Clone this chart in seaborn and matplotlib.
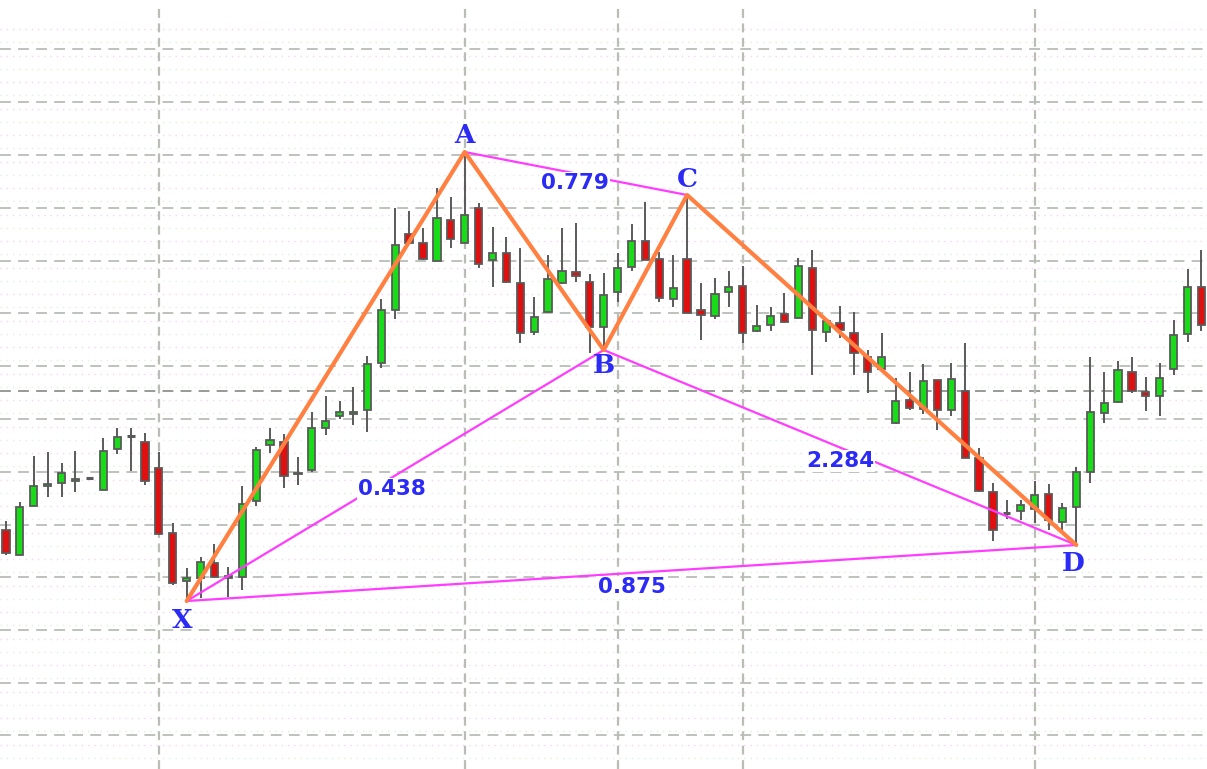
import numpy as np
import pandas as pd
import matplotlib
matplotlib.use("Agg")
import matplotlib.pyplot as plt
import seaborn as sns

# ---------------- data (price units) ----------------
opens = [240, 215, 264, 284, 287, 289, 292, 280, 321, 334, 328, 302, 237, 189, 192, 207, 192, 193,
         269, 325, 328, 296, 300, 342, 354, 356, 360, 407, 460, 536, 527, 509, 550, 527, 562, 510,
         517, 487, 438, 458, 487, 498, 488, 443, 478, 503, 529, 511, 471, 511, 460, 454, 478, 484,
         439, 445, 456, 452, 502, 438, 447, 437, 413, 401, 347, 370, 361, 390, 360, 379, 312, 278,
         257, 259, 261, 276, 248, 263, 298, 357, 368, 398, 378, 374, 401, 436, 483]
closes = [217, 263, 284, 286, 297, 291, 292, 319, 333, 334, 289, 236, 187, 192, 208, 193, 194, 266,
          320, 330, 294, 297, 342, 349, 358, 358, 406, 460, 525, 527, 511, 552, 531, 555, 506, 517,
          488, 437, 453, 491, 499, 494, 443, 475, 502, 529, 510, 472, 482, 457, 455, 476, 483, 437,
          444, 454, 448, 504, 440, 449, 440, 417, 398, 413, 369, 362, 389, 360, 391, 312, 279, 240,
          257, 265, 275, 250, 262, 298, 358, 367, 400, 379, 374, 392, 435, 483, 445]
highs = [249, 268, 314, 318, 307, 319, 292, 332, 342, 342, 337, 318, 247, 202, 213, 226, 203, 284,
         323, 342, 336, 313, 358, 374, 369, 383, 414, 471, 562, 559, 542, 582, 573, 618, 567, 543,
         533, 522, 473, 515, 542, 547, 496, 497, 517, 546, 568, 518, 515, 575, 487, 492, 499, 504,
         465, 463, 477, 512, 520, 452, 464, 458, 420, 437, 392, 398, 406, 390, 407, 427, 322, 287,
         270, 270, 289, 286, 267, 303, 413, 398, 409, 413, 393, 407, 450, 501, 520]
lows = [215, 215, 264, 273, 273, 278, 292, 280, 316, 299, 285, 235, 185, 169, 172, 192, 173, 180,
        264, 317, 282, 285, 298, 335, 351, 345, 338, 402, 451, 527, 510, 509, 522, 527, 502, 483,
        487, 427, 435, 457, 486, 488, 417, 420, 468, 499, 510, 468, 463, 457, 430, 451, 463, 427,
        438, 439, 447, 452, 395, 428, 432, 395, 377, 400, 346, 360, 356, 340, 354, 312, 278, 229,
        251, 250, 247, 240, 240, 225, 287, 347, 367, 377, 359, 354, 395, 428, 439]

# harmonic pattern pivots (candle index, price)
pivot_names = ["X", "A", "B", "C", "D"]
pivot_idx = [13, 33, 43, 49, 77]
pivot_price = [169, 618, 420, 575, 225]

# ratio labels and where they sit (candle index, price)
ratio_labels = ["0.438", "0.779", "2.284", "0.875"]
ratio_pairs = [("X", "B"), ("A", "C"), ("B", "D"), ("X", "D")]
ratio_x = [27.8, 40.9, 60.0, 45.0]
ratio_y = [281, 587, 309, 183]

# grid
grid_levels = [721, 668, 615, 562, 509, 457, 404, 351, 298, 245, 193, 140, 87, 35]
price_line = 379
vgrid_idx = [11, 33, 44, 53, 74]

# ---------------- figure ----------------
sns.set_style("white")
fig = plt.figure(figsize=(12.07, 7.69), dpi=100)
ax = fig.add_axes([0, 0, 1, 1])

# faint dotted texture rows
step = (grid_levels[0] - grid_levels[1]) / 4.0
k = 0
lvl = grid_levels[0] + 1.5 * step
while lvl > 0:
    if min(abs(lvl - g) for g in grid_levels) > 3:
        ax.axhline(lvl, color="#f4d6f4" if k % 2 == 0 else "#dcf2dc", lw=1.0,
                   ls=(0, (1, 3.5)), zorder=0)
    lvl -= step
    k += 1

for g in grid_levels:
    ax.axhline(g, color="#b9bdb6", lw=1.3, ls=(0, (6, 4)), zorder=1)
ax.axhline(price_line, color="#8f938c", lw=1.3, ls=(0, (6, 4)), zorder=1)
for v in vgrid_idx:
    ax.axvline(v, ymax=0.995, color="#b9bdb6", lw=1.6, ls=(0, (4, 2.5)), zorder=1)

# candles
df = pd.DataFrame({"o": opens, "h": highs, "l": lows, "c": closes})
df["i"] = np.arange(len(df))
ax.vlines(df["i"], df["l"], df["h"], color="#5a5a5a", lw=1.4, zorder=3)
bw = 0.52
for _, r in df.iterrows():
    lo, hi = min(r.o, r.c), max(r.o, r.c)
    if hi - lo < 1:
        ax.hlines(r.o, r.i - bw / 2, r.i + bw / 2, color="#5a5a5a", lw=2.2, zorder=4)
        continue
    col = "#19dc19" if r.c > r.o else "#e01010"
    ax.bar(r.i, hi - lo, bottom=lo, width=bw, color=col, edgecolor="#5a5a5a",
           linewidth=1.3, zorder=4)

piv = dict(zip(pivot_names, zip(pivot_idx, pivot_price)))

# magenta ratio lines
for a, b in ratio_pairs:
    seg = pd.DataFrame({"x": [piv[a][0], piv[b][0]], "y": [piv[a][1], piv[b][1]]})
    sns.lineplot(data=seg, x="x", y="y", ax=ax, color="#ff3cff", lw=1.6,
                 sort=False, estimator=None, zorder=5)

# orange zigzag
zz = pd.DataFrame({"x": pivot_idx, "y": pivot_price})
sns.lineplot(data=zz, x="x", y="y", ax=ax, color="#ff8040", lw=3.0,
             sort=False, estimator=None, zorder=6)

ax.set_xlim(-0.43, 86.4)
ax.set_ylim(1, 770)
ax.axis("off")

# ratio labels
for txt, x, y in zip(ratio_labels, ratio_x, ratio_y):
    ax.text(x, y, txt, ha="center", va="center", fontsize=15.5, fontweight="bold",
            family="DejaVu Sans", color="#2b2bf5", zorder=8,
            bbox=dict(boxstyle="square,pad=0.05", fc="white", ec="none"))

# pivot letters
letter_off = {"X": (-3, -14), "A": (0, 12), "B": (0, -11), "C": (0, 11), "D": (-2, -13)}
for n in pivot_names:
    x, y = piv[n]
    ax.annotate(n, (x, y), xytext=letter_off[n], textcoords="offset points",
                ha="center", va="center", fontsize=19, fontweight="heavy",
                family="DejaVu Serif", color="#2b2bf5", zorder=9)

fig.savefig("out.png", dpi=100)
